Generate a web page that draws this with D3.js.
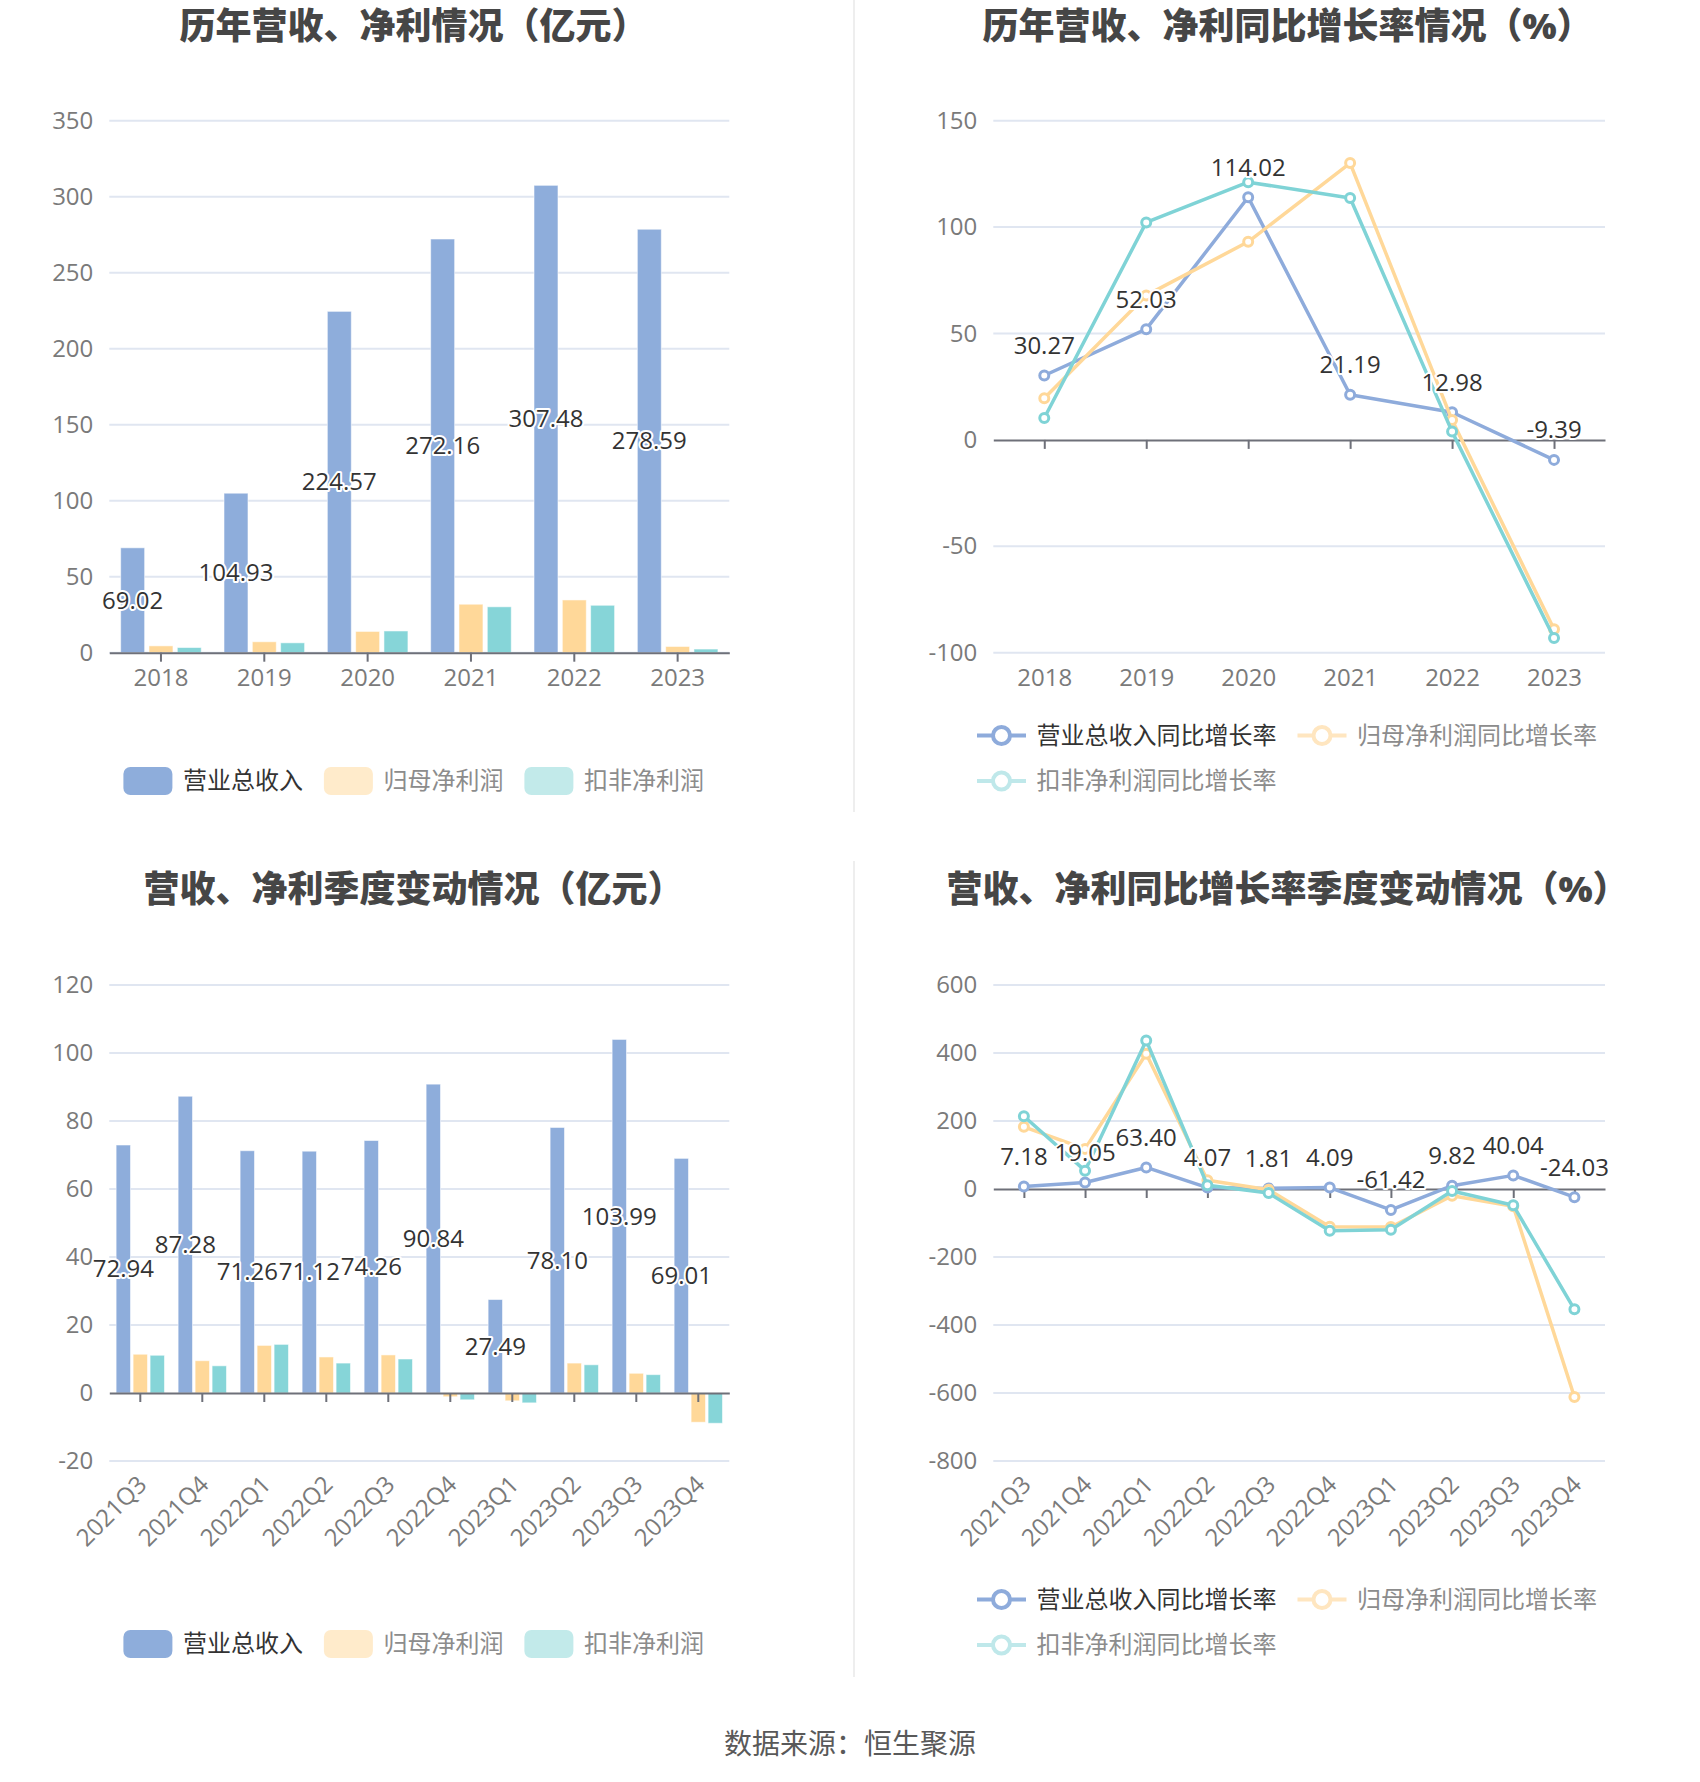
<!DOCTYPE html>
<html>
<head>
<meta charset="utf-8">
<script src="https://cdn.jsdelivr.net/npm/d3@7"></script>
<style>
  body { margin: 0; background: #fff; }
  text { font-family: "Open Sans", "Noto Sans CJK SC", sans-serif; }
</style>
</head>
<body>
<svg id="chart"></svg>
<script>
/* data */

const years = ["2018", "2019", "2020", "2021", "2022", "2023"];
const revenue = [69.02, 104.93, 224.57, 272.16, 307.48, 278.59];
const netProfit = [4.5, 7.2, 14.0, 31.9, 34.7, 4.1];
const deductedProfit = [3.4, 6.5, 14.3, 30.2, 31.2, 2.4];

const revenueYoy = [30.27, 52.03, 114.02, 21.19, 12.98, -9.39];
const netProfitYoy = [19.6, 67.9, 93.1, 130.1, 9.3, -89.0];
const deductedYoy = [10.3, 102.2, 121.1, 113.7, 3.9, -93.1];

const quarters = ["2021Q3", "2021Q4", "2022Q1", "2022Q2", "2022Q3",
                  "2022Q4", "2023Q1", "2023Q2", "2023Q3", "2023Q4"];
const qRevenue = [72.94, 87.28, 71.26, 71.12, 74.26, 90.84, 27.49, 78.10, 103.99, 69.01];
const qNetProfit = [11.4, 9.5, 14.0, 10.6, 11.2, -1.1, -2.3, 8.8, 5.8, -8.6];
const qDeducted = [11.1, 8.0, 14.3, 8.8, 10.0, -2.0, -2.9, 8.3, 5.4, -8.9];

const qRevenueYoy = [7.18, 19.05, 63.40, 4.07, 1.81, 4.09, -61.42, 9.82, 40.04, -24.03];
const qNetProfitYoy = [183, 118, 398, 26, -2, -111, -112, -20, -51, -612];
const qDeductedYoy = [214, 54, 437, 11, -12, -123, -120, -6, -48, -354];

const ticksYear = [0, 50, 100, 150, 200, 250, 300, 350];
const ticksYearYoy = [-100, -50, 0, 50, 100, 150];
const ticksQuarter = [-20, 0, 20, 40, 60, 80, 100, 120];
const ticksQuarterYoy = [-800, -600, -400, -200, 0, 200, 400, 600];

const barNames = ["营业总收入", "归母净利润", "扣非净利润"];
const lineNames = ["营业总收入同比增长率", "归母净利润同比增长率", "扣非净利润同比增长率"];


/* styles */

const FONT = '"Open Sans", "Noto Sans CJK SC", sans-serif';
const CJK = '"Noto Sans CJK SC", sans-serif';
const AXIS_GRAY = "#6E7079";
const GRID = "#E0E6F1";
const barColors = ["#8EADDB", "#FFD899", "#86D5D8"];
const lineColors = ["#8EABDB", "#FFD899", "#7FD3D6"];
const legendBarColors = ["#8EADDB", "#FFEBCB", "#C2EAEA"];
const legendLineColors = ["#8EABDB", "#FFE6C0", "#BFE8EA"];
const legendText = ["#333", "#8c8c8c", "#8c8c8c"];

var svg = d3.select("#chart").attr("width", 1700).attr("height", 1782);
svg.append("rect").attr("width", 1700).attr("height", 1782).attr("fill", "#fff");


function drawFrame(g, p, x, y) {
  // grid lines
  g.append("g").selectAll("line")
    .data(p.ticks.filter(d => d !== 0 || p.domain[0] === 0))
    .enter().append("line")
    .attr("x1", p.x0).attr("x2", p.x1)
    .attr("y1", d => y(d)).attr("y2", d => y(d))
    .attr("stroke", GRID).attr("stroke-width", 2);

  // y labels (plain hyphen for negatives)
  let ya = g.append("g").attr("transform", "translate(" + p.x0 + ",0)")
    .call(d3.axisLeft(y).tickValues(p.ticks).tickSize(0).tickPadding(16)
      .tickFormat(d => String(d)));
  ya.select(".domain").remove();
  ya.selectAll("text")
    .attr("font-size", 24).attr("fill", "#7a7a7a").attr("font-family", FONT);

  // x labels along the bottom
  let xa = g.append("g").attr("transform", "translate(0," + p.yBot + ")")
    .call(d3.axisBottom(x).tickSize(0));
  xa.select(".domain").remove();
  let lbl = xa.selectAll("text")
    .attr("font-size", 24).attr("fill", "#7a7a7a").attr("font-family", FONT);
  if (p.rotate) {
    lbl.attr("y", 0).attr("dy", "0.35em")
      .attr("text-anchor", "end")
      .attr("transform", "translate(2,19) rotate(-45)");
  } else {
    lbl.attr("y", 25).attr("dy", "0.35em");
  }
}

function drawZeroAxis(g, p, x, y) {
  let za = g.append("g").attr("transform", "translate(0," + y(0) + ")")
    .call(d3.axisBottom(x).tickSize(9).tickSizeOuter(0).tickFormat(""));
  za.select(".domain").attr("stroke", AXIS_GRAY).attr("stroke-width", 2);
  za.selectAll(".tick line").attr("stroke", AXIS_GRAY).attr("stroke-width", 2);
}

function valueLabel(sel) {
  sel.attr("font-size", 24).attr("fill", "#333")
    .attr("font-family", FONT)
    .attr("text-anchor", "middle").attr("dy", "0.35em")
    .attr("stroke", "#fff").attr("stroke-width", 4)
    .attr("stroke-linejoin", "round").attr("paint-order", "stroke");
}

function barPanel(p) {
  let x = d3.scaleBand().domain(p.cats).range([p.x0, p.x1]);
  let y = d3.scaleLinear().domain(p.domain).range([p.yBot, p.yTop]);
  let g = svg.append("g");
  let bw = x.bandwidth() * 0.232;
  let step = x.bandwidth() * 0.274;

  drawFrame(g, p, x, y);

  p.series.forEach((vals, i) => {
    g.append("g").selectAll("rect")
      .data(vals)
      .enter().append("rect")
      .attr("x", (d, j) => x(p.cats[j]) + x.bandwidth() / 2 + (i - 1) * step - bw / 2)
      .attr("width", bw)
      .attr("y", d => Math.min(y(d), y(0)))
      .attr("height", d => Math.abs(y(d) - y(0)))
      .attr("fill", barColors[i])
      .attr("stroke", "rgba(255,255,255,0.55)").attr("stroke-width", 1);
  });

  drawZeroAxis(g, p, x, y);

  g.append("g").selectAll("text")
    .data(p.series[0])
    .enter().append("text")
    .attr("x", (d, j) => x(p.cats[j]) + x.bandwidth() / 2 - step)
    .attr("y", d => (y(d) + y(0)) / 2)
    .text(d => d.toFixed(2))
    .call(valueLabel);
}

function linePanel(p) {
  let x = d3.scalePoint().domain(p.cats).range([p.x0, p.x1]).padding(0.5);
  let y = d3.scaleLinear().domain(p.domain).range([p.yBot, p.yTop]);
  let g = svg.append("g");

  drawFrame(g, p, x, y);
  drawZeroAxis(g, p, x, y);

  let line = d3.line()
    .x((d, i) => x(p.cats[i]))
    .y(d => y(d));

  p.series.forEach((vals, i) => {
    let sg = g.append("g");
    sg.append("path")
      .attr("d", line(vals))
      .attr("fill", "none")
      .attr("stroke", lineColors[i])
      .attr("stroke-width", 3.5)
      .attr("stroke-linejoin", "round");
    sg.selectAll("circle")
      .data(vals)
      .enter().append("circle")
      .attr("cx", (d, j) => x(p.cats[j]))
      .attr("cy", d => y(d))
      .attr("r", 4.5)
      .attr("fill", "#fff")
      .attr("stroke", lineColors[i])
      .attr("stroke-width", 3);
  });

  g.append("g").selectAll("text")
    .data(p.series[0])
    .enter().append("text")
    .attr("x", (d, j) => x(p.cats[j]))
    .attr("y", d => y(d) - 30)
    .text(d => d.toFixed(2))
    .call(valueLabel);
}

function barLegend(x, y) {
  let g = svg.append("g");
  barNames.forEach((name, i) => {
    g.append("rect")
      .attr("x", x).attr("y", y - 14)
      .attr("width", 49).attr("height", 28).attr("rx", 7)
      .attr("fill", legendBarColors[i]);
    let t = g.append("text")
      .attr("x", x + 59.5).attr("y", y).attr("dy", "0.35em")
      .attr("font-size", 24).attr("font-family", CJK)
      .attr("fill", legendText[i])
      .text(name);
    x = x + 59.5 + t.node().getComputedTextLength() + 21;
  });
}

function lineLegend(x, y, rowGap) {
  let g = svg.append("g");
  let cx = x;
  lineNames.forEach((name, i) => {
    let cy = i < 2 ? y : y + rowGap;
    if (i === 2) cx = x;
    g.append("line")
      .attr("x1", cx).attr("x2", cx + 49)
      .attr("y1", cy).attr("y2", cy)
      .attr("stroke", legendLineColors[i]).attr("stroke-width", 4);
    g.append("circle")
      .attr("cx", cx + 24.5).attr("cy", cy).attr("r", 8.5)
      .attr("fill", "#fff")
      .attr("stroke", legendLineColors[i]).attr("stroke-width", 4);
    let t = g.append("text")
      .attr("x", cx + 59.5).attr("y", cy).attr("dy", "0.35em")
      .attr("font-size", 24).attr("font-family", CJK)
      .attr("fill", legendText[i])
      .text(name);
    cx = cx + 59.5 + t.node().getComputedTextLength() + 21;
  });
}

function title(txt, x, y) {
  svg.append("text")
    .attr("x", x).attr("y", y).attr("dy", "0.35em")
    .attr("text-anchor", "middle")
    .attr("font-size", 36).attr("font-weight", 900)
    .attr("font-family", CJK).attr("fill", "#464646")
    .text(txt);
}


/* dividers */
svg.append("line").attr("x1", 854).attr("x2", 854).attr("y1", 0).attr("y2", 812)
  .attr("stroke", "#eeeeee").attr("stroke-width", 2);
svg.append("line").attr("x1", 854).attr("x2", 854).attr("y1", 861).attr("y2", 1677)
  .attr("stroke", "#eeeeee").attr("stroke-width", 2);


/* panels */

title("历年营收、净利情况（亿元）", 413.5, 26);
barPanel({
  cats: years, series: [revenue, netProfit, deductedProfit],
  x0: 109.3, x1: 729.3, yTop: 120.7, yBot: 652.7,
  domain: [0, 350], ticks: ticksYear
});
barLegend(123.4, 781);

title("历年营收、净利同比增长率情况（%）", 1287.5, 26);
linePanel({
  cats: years, series: [revenueYoy, netProfitYoy, deductedYoy],
  x0: 993.3, x1: 1605, yTop: 120.7, yBot: 652.7,
  domain: [-100, 150], ticks: ticksYearYoy
});
lineLegend(977, 735.5, 45.5);

title("营收、净利季度变动情况（亿元）", 413.5, 889);
barPanel({
  cats: quarters, series: [qRevenue, qNetProfit, qDeducted],
  x0: 109.3, x1: 729.3, yTop: 985, yBot: 1461,
  domain: [-20, 120], ticks: ticksQuarter, rotate: true
});
barLegend(123.4, 1644);

title("营收、净利同比增长率季度变动情况（%）", 1287.5, 889);
linePanel({
  cats: quarters, series: [qRevenueYoy, qNetProfitYoy, qDeductedYoy],
  x0: 993.3, x1: 1605, yTop: 985, yBot: 1461,
  domain: [-800, 600], ticks: ticksQuarterYoy, rotate: true
});
lineLegend(977, 1599.5, 45.5);

svg.append("text")
  .attr("x", 850).attr("y", 1744).attr("dy", "0.35em")
  .attr("text-anchor", "middle")
  .attr("font-size", 28).attr("font-family", CJK).attr("fill", "#595959")
  .text("数据来源：恒生聚源");
</script>
</body>
</html>
